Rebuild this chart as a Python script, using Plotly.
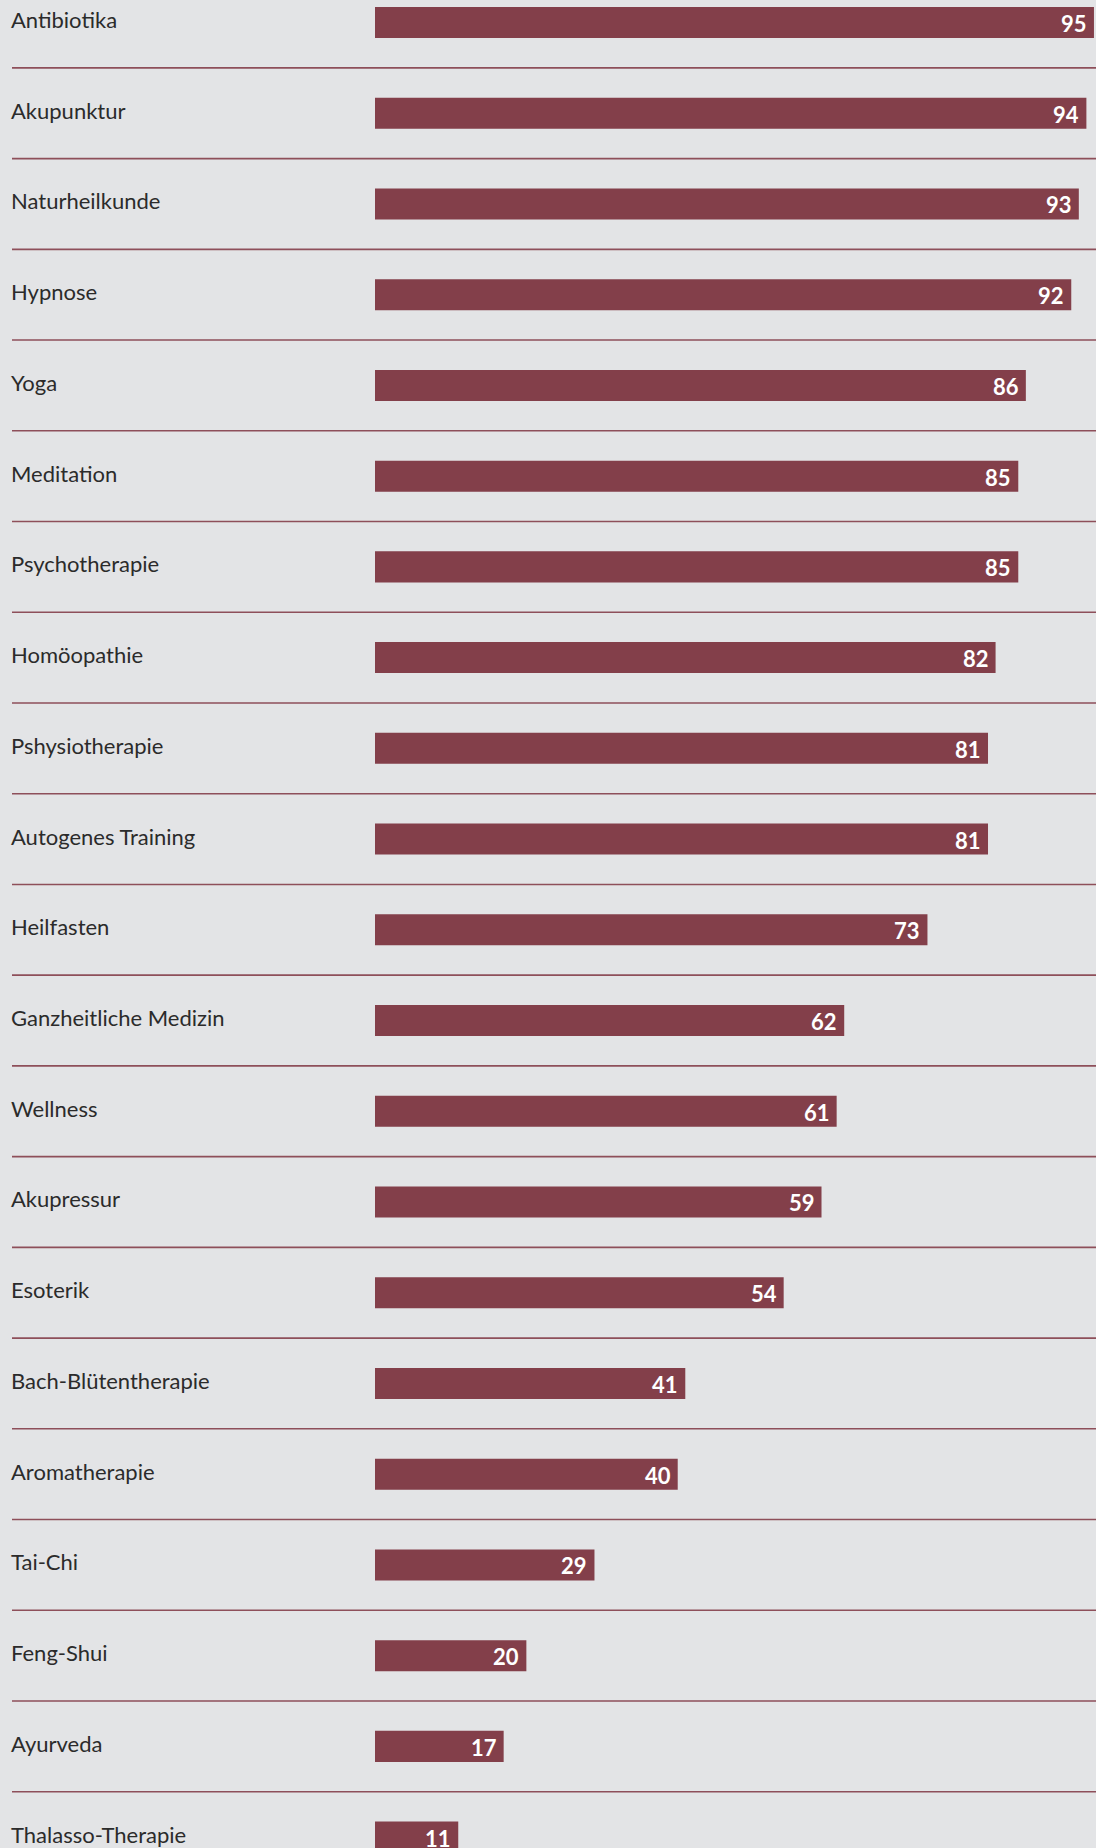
import plotly.graph_objects as go

# Survey results: share of respondents per therapy (percent)
therapies = [
    "Antibiotika", "Akupunktur", "Naturheilkunde", "Hypnose", "Yoga",
    "Meditation", "Psychotherapie", "Homöopathie", "Pshysiotherapie",
    "Autogenes Training", "Heilfasten", "Ganzheitliche Medizin", "Wellness",
    "Akupressur", "Esoterik", "Bach-Blütentherapie", "Aromatherapie",
    "Tai-Chi", "Feng-Shui", "Ayurveda", "Thalasso-Therapie",
]
values = [95, 94, 93, 92, 86, 85, 85, 82, 81, 81, 73, 62, 61, 59, 54, 41, 40, 29, 20, 17, 11]

BG = "#e3e4e6"
BAR = "#833f4a"
RULE = "#8e4f5a"
W, H = 1096, 1848

positions = list(range(len(therapies)))

fig = go.Figure(
    go.Bar(
        x=values,
        y=positions,
        orientation="h",
        marker=dict(color=BAR, line=dict(width=0)),
        width=0.342,
        hoverinfo="skip",
    )
)

annotations = []
for pos, name, val in zip(positions, therapies, values):
    # category label on the left
    annotations.append(dict(
        x=9 / W, xref="paper", y=pos, yref="y",
        text=name, showarrow=False, xanchor="left", yanchor="middle",
        yshift=3,
        font=dict(family="Lato", size=22, color="#2b2b2b"),
    ))
    # value label inside the bar end
    annotations.append(dict(
        x=val, xref="x", y=pos, yref="y",
        text=f"<b>{val}</b>", showarrow=False, xanchor="right", yanchor="middle",
        xshift=-5, yshift=-1,
        font=dict(family="Lato", size=22, color="white"),
    ))

# horizontal rules between rows
shapes = []
for i in range(len(therapies) - 1):
    shapes.append(dict(
        type="line", xref="paper", yref="y",
        x0=12 / W, x1=1, y0=i + 0.5, y1=i + 0.5,
        line=dict(color=RULE, width=1.6),
        layer="below",
    ))

px_per_unit = 7.568
x_min = -375 / px_per_unit
x_max = x_min + W / px_per_unit
row_px = 90.73
y_top = -22.5 / row_px
y_bottom = y_top + H / row_px

fig.update_layout(
    width=W, height=H,
    margin=dict(l=0, r=0, t=0, b=0),
    paper_bgcolor=BG, plot_bgcolor=BG,
    showlegend=False,
    annotations=annotations,
    shapes=shapes,
    xaxis=dict(range=[x_min, x_max], visible=False, fixedrange=True),
    yaxis=dict(range=[y_bottom, y_top], visible=False, fixedrange=True),
)

fig.write_html("out.html", config={"displayModeBar": False})
